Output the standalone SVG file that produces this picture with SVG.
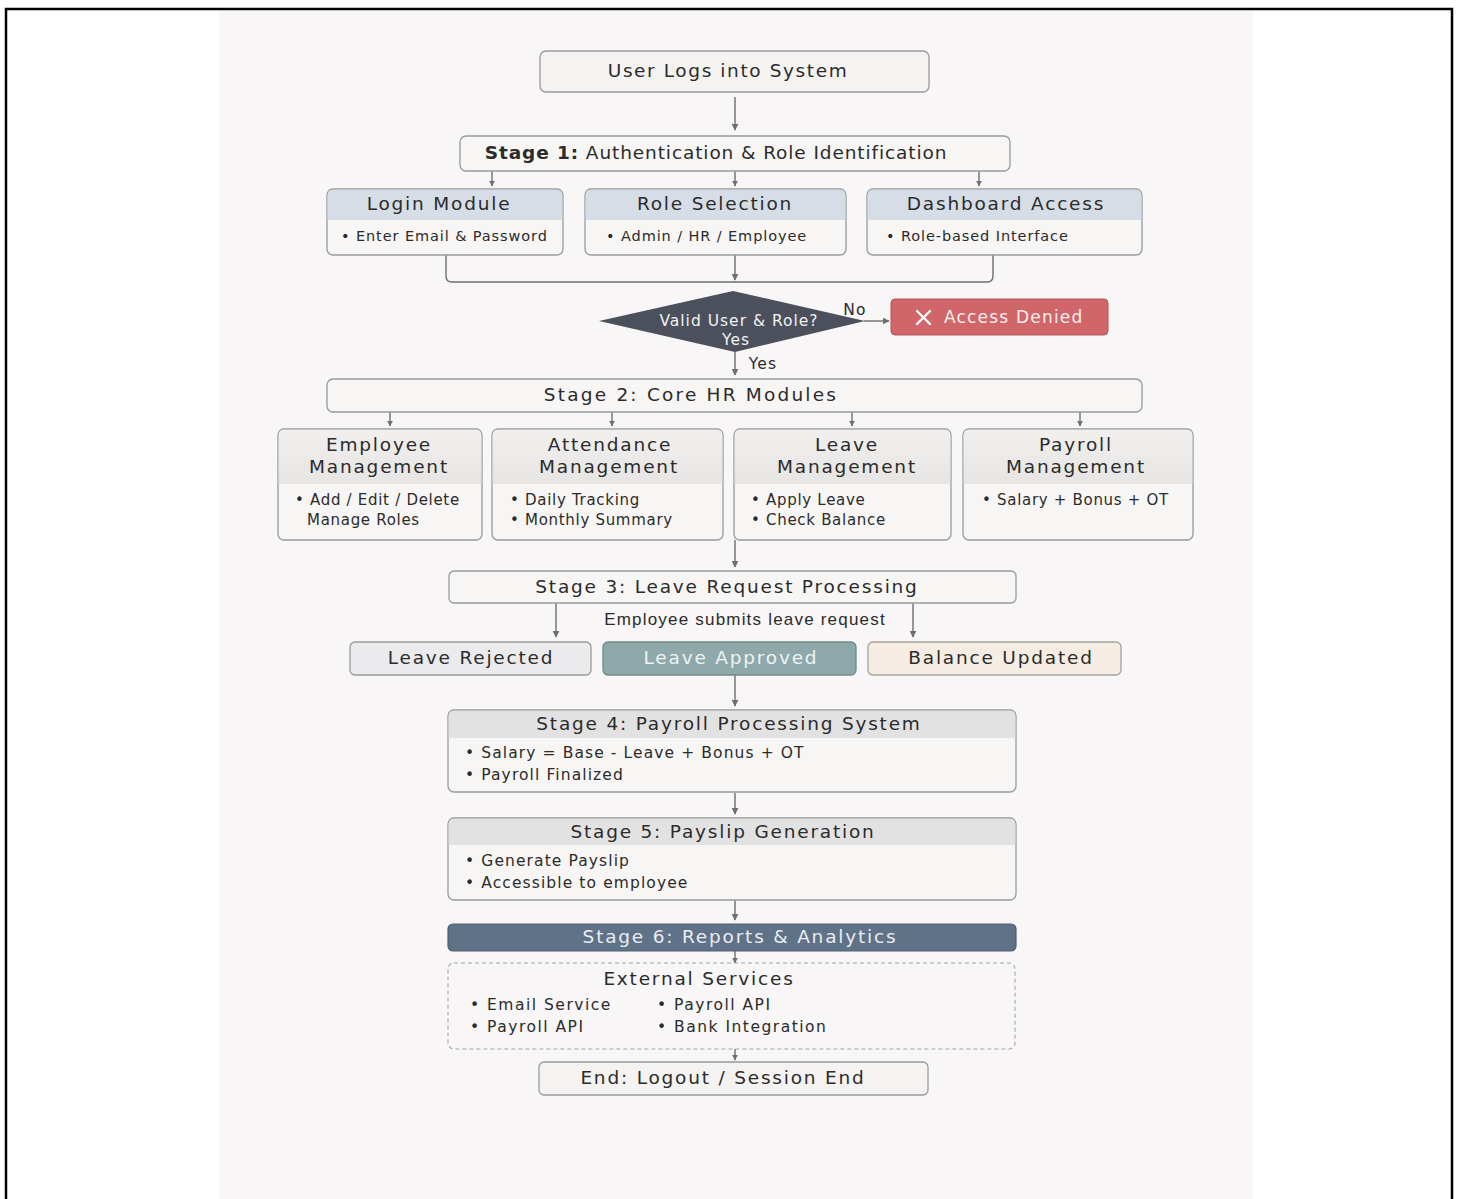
<svg xmlns="http://www.w3.org/2000/svg" width="1458" height="1199" viewBox="0 0 1458 1199">
<defs>
<marker id="ah" viewBox="0 0 10 10" refX="9" refY="5" markerWidth="7" markerHeight="7" orient="auto" markerUnits="userSpaceOnUse">
<path d="M0,0 L10,5 L0,10 z" fill="#6f6f6f"/>
</marker>
<marker id="ahs" viewBox="0 0 10 10" refX="9" refY="5" markerWidth="6" markerHeight="6" orient="auto" markerUnits="userSpaceOnUse">
<path d="M0,0 L10,5 L0,10 z" fill="#6f6f6f"/>
</marker>
<linearGradient id="hdr" x1="0" y1="0" x2="0" y2="1">
<stop offset="0" stop-color="#f1f0ef"/>
<stop offset="1" stop-color="#e6e5e4"/>
</linearGradient>
</defs>
<style>
text{font-family:"DejaVu Sans","Liberation Sans",sans-serif;fill:#2b2b2b;}
.box{fill:#f5f3f1;stroke:#9a9a9a;stroke-width:1.3;}
.card{fill:#f7f6f5;stroke:#9a9a9a;stroke-width:1.3;}
.t18{font-size:18.5px;letter-spacing:1.8px;text-anchor:middle;}
.t17{font-size:17px;letter-spacing:1.2px;}
.t14{font-size:14.5px;letter-spacing:0.9px;}
.t15{font-size:15.5px;letter-spacing:1.1px;}
.tm{font-size:15px;letter-spacing:0.7px;}
.c{stroke:#6f6f6f;stroke-width:1.4;fill:none;}
.blue{fill:#d6dde6;}
.gh{fill:url(#hdr);}
</style>
<rect x="0" y="0" width="1458" height="1199" fill="#ffffff"/>
<rect x="219" y="11" width="1034" height="1188" fill="#f8f6f6"/>
<path d="M6,1199 V9 H1452 V1199" fill="none" stroke="#000" stroke-width="2.5"/>

<g id="connectors">
<line class="c" x1="735" y1="97" x2="735" y2="130" marker-end="url(#ah)"/>
<line class="c" x1="492" y1="171" x2="492" y2="186" marker-end="url(#ahs)"/>
<line class="c" x1="735" y1="171" x2="735" y2="186" marker-end="url(#ahs)"/>
<line class="c" x1="979" y1="171" x2="979" y2="186" marker-end="url(#ahs)"/>
<path class="c" d="M446,255 V276 Q446,282 452,282 H987 Q993,282 993,276 V255"/>
<line class="c" x1="735" y1="255" x2="735" y2="280" marker-end="url(#ah)"/>
<line class="c" x1="864" y1="321" x2="889" y2="321" marker-end="url(#ah)"/>
<line class="c" x1="735" y1="352" x2="735" y2="375" marker-end="url(#ah)"/>
<line class="c" x1="390" y1="412" x2="390" y2="426" marker-end="url(#ahs)"/>
<line class="c" x1="612" y1="412" x2="612" y2="426" marker-end="url(#ahs)"/>
<line class="c" x1="852" y1="412" x2="852" y2="426" marker-end="url(#ahs)"/>
<line class="c" x1="1080" y1="412" x2="1080" y2="426" marker-end="url(#ahs)"/>
<line class="c" x1="735" y1="540" x2="735" y2="567" marker-end="url(#ah)"/>
<line class="c" x1="556" y1="603" x2="556" y2="637" marker-end="url(#ah)"/>
<line class="c" x1="913" y1="603" x2="913" y2="637" marker-end="url(#ah)"/>
<line class="c" x1="735" y1="675" x2="735" y2="706" marker-end="url(#ah)"/>
<line class="c" x1="735" y1="793" x2="735" y2="814" marker-end="url(#ah)"/>
<line class="c" x1="735" y1="900" x2="735" y2="920" marker-end="url(#ah)"/>
<line class="c" x1="735" y1="951" x2="735" y2="963" marker-end="url(#ahs)"/>
<line class="c" x1="735" y1="1049" x2="735" y2="1060" marker-end="url(#ahs)"/>
<text x="855" y="315" class="t15" text-anchor="middle">No</text>
<text x="763" y="369" class="t15" text-anchor="middle">Yes</text>
<text x="745" y="625" text-anchor="middle" style="font-family:'Liberation Sans',sans-serif;font-size:17px;letter-spacing:1.2px">Employee submits leave request</text>
</g>

<g id="start">
<rect class="box" x="540" y="51" width="389" height="41" rx="6"/>
<text class="t18" x="728" y="77" style="letter-spacing:1.6px">User Logs into System</text>
</g>

<g id="stage1">
<rect class="card" x="460" y="136" width="550" height="35" rx="6"/>
<text class="t18" x="716" y="159" style="letter-spacing:0.9px"><tspan font-weight="bold">Stage 1:</tspan> Authentication &amp; Role Identification</text>
</g>

<g id="login">
<rect class="card" x="327" y="189" width="236" height="66" rx="6"/>
<path class="blue" d="M327.7,220 V195 Q327.7,189.7 333,189.7 H557 Q562.3,189.7 562.3,195 V220 z"/>
<text class="t18" x="439" y="210">Login Module</text>
<text class="t14" x="341" y="241">• Enter Email &amp; Password</text>
</g>

<g id="role">
<rect class="card" x="585" y="189" width="261" height="66" rx="6"/>
<path class="blue" d="M585.7,220 V195 Q585.7,189.7 591,189.7 H840 Q845.3,189.7 845.3,195 V220 z"/>
<text class="t18" x="715" y="210">Role Selection</text>
<text class="t14" x="606" y="241">• Admin / HR / Employee</text>
</g>

<g id="dashboard">
<rect class="card" x="867" y="189" width="275" height="66" rx="6"/>
<path class="blue" d="M867.7,220 V195 Q867.7,189.7 873,189.7 H1136 Q1141.3,189.7 1141.3,195 V220 z"/>
<text class="t18" x="1006" y="210">Dashboard Access</text>
<text class="t14" x="886" y="241">• Role-based Interface</text>
</g>

<g id="decision">
<polygon points="599,321 733,291 865,321 735,352" fill="#4b505c"/>
<text class="t15" x="739" y="326" text-anchor="middle" style="fill:#f2f2f2;letter-spacing:1px">Valid User &amp; Role?</text>
<text class="t15" x="736" y="345" text-anchor="middle" style="fill:#f2f2f2;letter-spacing:1px">Yes</text>
</g>

<g id="denied">
<rect x="891" y="299" width="217" height="36" rx="4" fill="#d0666a" stroke="#b85558" stroke-width="1"/>
<path d="M917,311 L930,324 M930,311 L917,324" stroke="#fff" stroke-width="2.4" stroke-linecap="round"/>
<text x="944" y="323" class="t17" style="fill:#fbeeee">Access Denied</text>
</g>

<g id="stage2">
<rect class="card" x="327" y="379" width="815" height="33" rx="6"/>
<text class="t18" x="691" y="401" style="letter-spacing:2.2px">Stage 2: Core HR Modules</text>
</g>

<g id="emp">
<rect class="card" x="278" y="429" width="204" height="111" rx="6"/>
<path class="gh" d="M278.7,484 V435 Q278.7,429.7 284,429.7 H476 Q481.3,429.7 481.3,435 V484 z"/>
<text class="t18" x="379" y="451">Employee</text>
<text class="t18" x="379" y="473">Management</text>
<text class="tm" x="295" y="505">• Add / Edit / Delete</text>
<text class="tm" x="307" y="525">Manage Roles</text>
</g>

<g id="att">
<rect class="card" x="492" y="429" width="231" height="111" rx="6"/>
<path class="gh" d="M492.7,484 V435 Q492.7,429.7 498,429.7 H717 Q722.3,429.7 722.3,435 V484 z"/>
<text class="t18" x="610" y="451">Attendance</text>
<text class="t18" x="609" y="473">Management</text>
<text class="tm" x="510" y="505">• Daily Tracking</text>
<text class="tm" x="510" y="525">• Monthly Summary</text>
</g>

<g id="leave">
<rect class="card" x="734" y="429" width="217" height="111" rx="6"/>
<path class="gh" d="M734.7,484 V435 Q734.7,429.7 740,429.7 H945 Q950.3,429.7 950.3,435 V484 z"/>
<text class="t18" x="847" y="451">Leave</text>
<text class="t18" x="847" y="473">Management</text>
<text class="tm" x="751" y="505">• Apply Leave</text>
<text class="tm" x="751" y="525">• Check Balance</text>
</g>

<g id="payroll">
<rect class="card" x="963" y="429" width="230" height="111" rx="6"/>
<path class="gh" d="M963.7,484 V435 Q963.7,429.7 969,429.7 H1187 Q1192.3,429.7 1192.3,435 V484 z"/>
<text class="t18" x="1076" y="451">Payroll</text>
<text class="t18" x="1076" y="473">Management</text>
<text class="tm" x="982" y="505">• Salary + Bonus + OT</text>
</g>

<g id="stage3">
<rect class="card" x="449" y="571" width="567" height="32" rx="5"/>
<text class="t18" x="727" y="593">Stage 3: Leave Request Processing</text>
</g>

<g id="rejected">
<rect x="350" y="642" width="241" height="33" rx="5" fill="#ebebed" stroke="#9a9a9a" stroke-width="1.3"/>
<text class="t18" x="471" y="664">Leave Rejected</text>
</g>

<g id="approved">
<rect x="603" y="642" width="253" height="33" rx="5" fill="#8fa9aa" stroke="#6f8a8b" stroke-width="1.3"/>
<text class="t18" x="731" y="664" style="fill:#eef3f3">Leave Approved</text>
</g>

<g id="balance">
<rect x="868" y="642" width="253" height="33" rx="5" fill="#f5ede4" stroke="#a8a29b" stroke-width="1.3"/>
<text class="t18" x="1001" y="664">Balance Updated</text>
</g>

<g id="stage4">
<rect class="card" x="448" y="710" width="568" height="82" rx="6"/>
<path d="M448.7,738 V716 Q448.7,710.7 454,710.7 H1010 Q1015.3,710.7 1015.3,716 V738 z" fill="#e3e2e2"/>
<text class="t18" x="729" y="730">Stage 4: Payroll Processing System</text>
<text class="t15" x="465" y="758">• Salary = Base - Leave + Bonus + OT</text>
<text class="t15" x="465" y="780">• Payroll Finalized</text>
</g>

<g id="stage5">
<rect class="card" x="448" y="818" width="568" height="82" rx="6"/>
<path d="M448.7,845 V824 Q448.7,818.7 454,818.7 H1010 Q1015.3,818.7 1015.3,824 V845 z" fill="#e3e2e2"/>
<text class="t18" x="723" y="838">Stage 5: Payslip Generation</text>
<text class="t15" x="465" y="866">• Generate Payslip</text>
<text class="t15" x="465" y="888">• Accessible to employee</text>
</g>

<g id="stage6">
<rect x="448" y="924" width="568" height="27" rx="5" fill="#5f7287" stroke="#4f6074" stroke-width="1.2"/>
<text class="t18" x="740" y="943" style="fill:#e9edf2">Stage 6: Reports &amp; Analytics</text>
</g>

<g id="external">
<rect x="448" y="963" width="567" height="86" rx="6" fill="#f8f6f6" stroke="#a6a6a6" stroke-width="1.1" stroke-dasharray="4,3"/>
<text class="t18" x="699" y="985">External Services</text>
<text class="t15" x="470" y="1010" style="letter-spacing:1.5px">• Email Service</text>
<text class="t15" x="470" y="1032" style="letter-spacing:1.5px">• Payroll API</text>
<text class="t15" x="657" y="1010" style="letter-spacing:1.5px">• Payroll API</text>
<text class="t15" x="657" y="1032" style="letter-spacing:1.5px">• Bank Integration</text>
</g>

<g id="end">
<rect class="box" x="539" y="1062" width="389" height="33" rx="5"/>
<text class="t18" x="723" y="1084">End: Logout / Session End</text>
</g>
</svg>
